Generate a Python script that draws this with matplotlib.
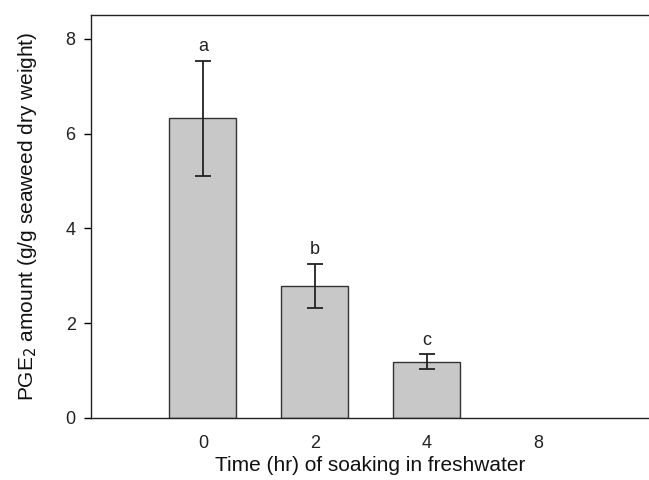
import matplotlib
matplotlib.use("Agg")
import matplotlib.pyplot as plt

plt.rcParams['font.family'] = ['Liberation Sans', 'DejaVu Sans']

# Soaking time groups and measured PGE2 content
times = ["0", "2", "4", "8"]
means = [6.32, 2.79, 1.19, 0.0]
errors = [1.22, 0.46, 0.15, 0.0]
letters = ["a", "b", "c", ""]

fig = plt.figure(figsize=(6.49, 4.8), dpi=100)
ax = fig.add_axes([91 / 649, 1 - 418 / 480, 1 - 91 / 649 + 0.002, (418 - 15) / 480])

pos = list(range(len(times)))
ax.bar(pos[:3], means[:3], width=0.6, color="#c8c8c8", edgecolor="#333333", linewidth=1.0, zorder=2)
ax.errorbar(pos[:3], means[:3], yerr=errors[:3], fmt="none", ecolor="#222222",
            elinewidth=1.3, capsize=6, capthick=1.3, zorder=3)

for p, m, e, t in zip(pos, means, errors, letters):
    if t:
        ax.text(p, m + e + 0.12, t, ha="center", va="bottom", fontsize=13, color="#222222")

ax.set_xlim(-1, 4)
ax.set_ylim(0, 8.5)
ax.set_xticks(pos)
ax.set_xticklabels(times)
ax.set_yticks([0, 2, 4, 6, 8])
ax.tick_params(axis="x", length=0, pad=12, labelsize=13, labelcolor="#222222")
ax.tick_params(axis="y", direction="out", length=5, width=1, labelsize=13, pad=6,
               labelcolor="#222222")
ax.spines["right"].set_visible(False)
for s in ("left", "top", "bottom"):
    ax.spines[s].set_linewidth(1.0)
    ax.spines[s].set_color("#222222")

ax.set_xlabel("Time (hr) of soaking in freshwater", fontsize=15, labelpad=3, color="#111111")
ax.set_ylabel("PGE$_2$ amount (g/g seaweed dry weight)", fontsize=15, labelpad=19,
              color="#111111")

fig.savefig("out.png", dpi=100)
